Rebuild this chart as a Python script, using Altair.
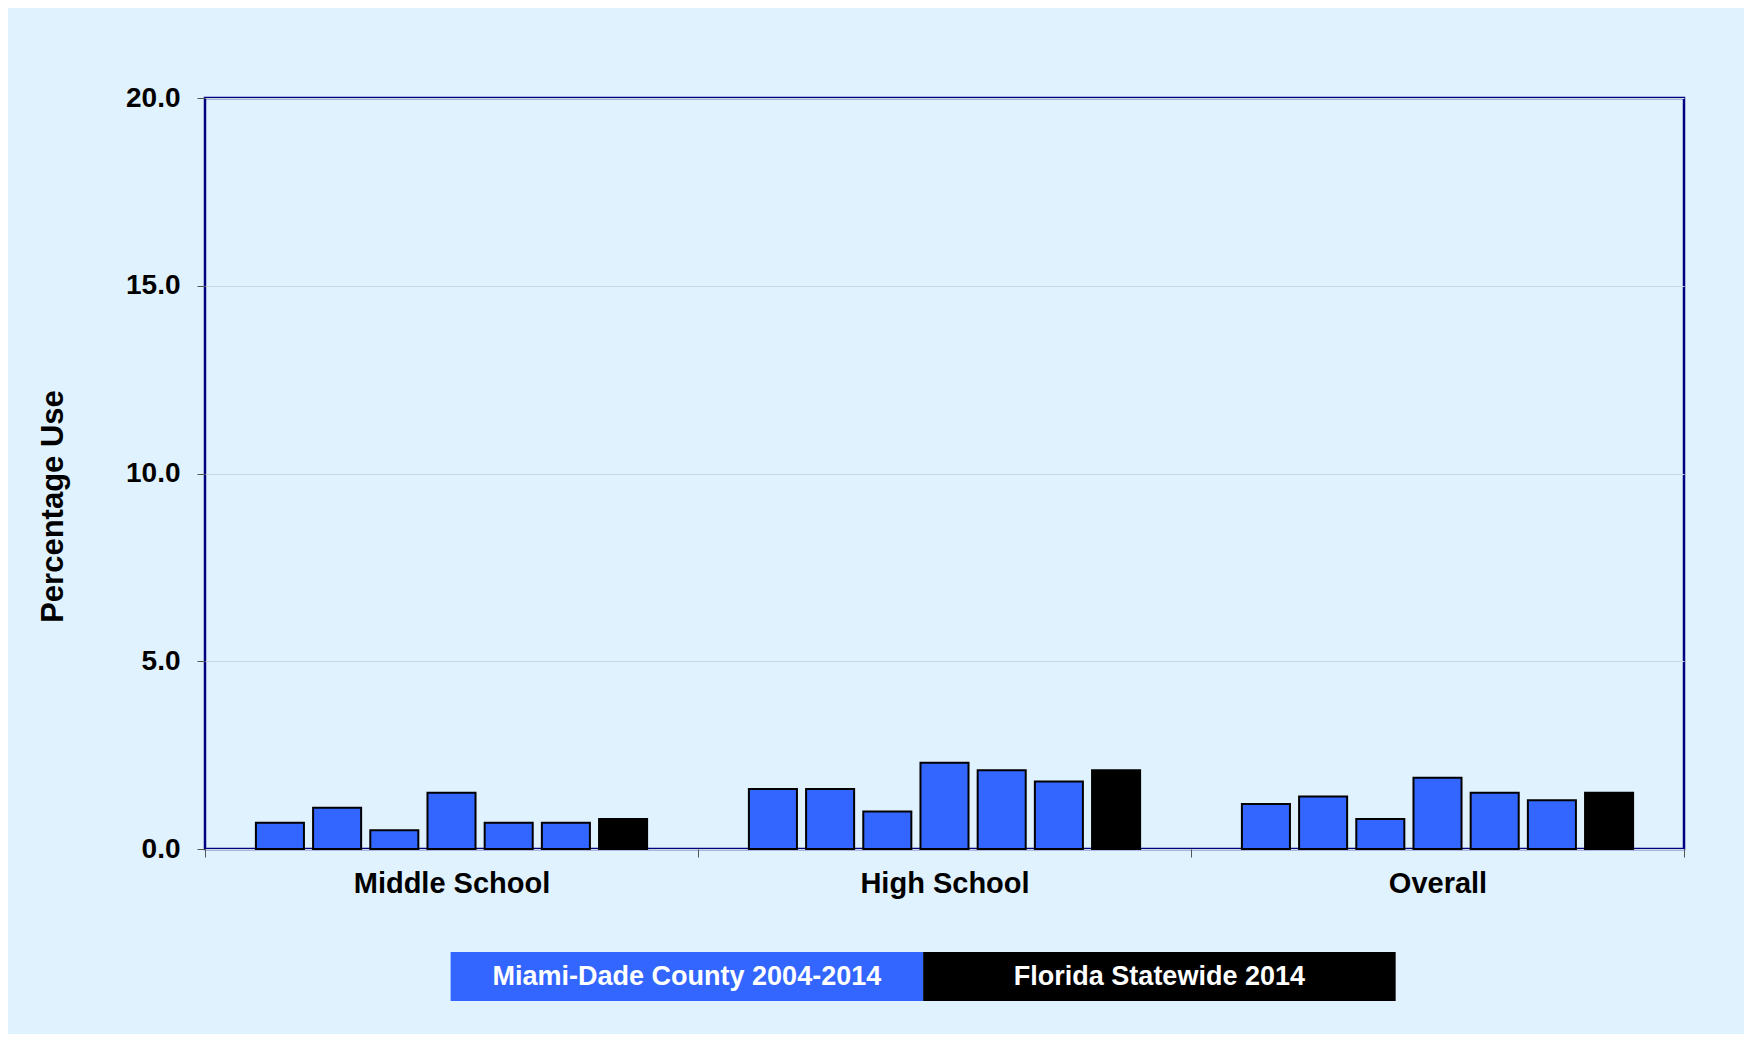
import altair as alt
import pandas as pd

groups = ["Middle School", "High School", "Overall"]
years = ["2004", "2006", "2008", "2010", "2012", "2014"]
middle_school = [0.7, 1.1, 0.5, 1.5, 0.7, 0.7]
high_school = [1.6, 1.6, 1.0, 2.3, 2.1, 1.8]
overall = [1.2, 1.4, 0.8, 1.9, 1.5, 1.3]
florida_2014 = [0.8, 2.1, 1.5]
legend_labels = ["Miami-Dade County 2004-2014", "Florida Statewide 2014"]
colors = ["#3366FF", "#000000"]
y_ticks = [0, 5, 10, 15, 20]

FONT = "Liberation Sans"
BG = "#E0F2FE"

rows = []
bar_order = [f"Miami-Dade {y}" for y in years] + ["Florida 2014"]
for g, vals, fl in zip(groups, [middle_school, high_school, overall], florida_2014):
    for y, v in zip(years, vals):
        rows.append({"group": g, "bar": f"Miami-Dade {y}", "series": legend_labels[0], "value": v})
    rows.append({"group": g, "bar": "Florida 2014", "series": legend_labels[1], "value": fl})
df = pd.DataFrame(rows)

main = alt.Chart(df).mark_bar(stroke="#000000", strokeWidth=2).encode(
    x=alt.X(
        "group:N", sort=groups,
        scale=alt.Scale(paddingInner=0, paddingOuter=0),
        axis=alt.Axis(
            title=None, labelAngle=0, tickBand="extent", domain=False,
            labelFont=FONT, labelFontSize=29, labelFontWeight="bold", labelColor="#000000",
            labelLimit=500,
            tickColor="#555555", tickSize=8, labelPadding=12, grid=False,
        ),
    ),
    xOffset=alt.XOffset("bar:N", sort=bar_order,
                        scale=alt.Scale(paddingInner=0.16, paddingOuter=0.89)),
    y=alt.Y(
        "value:Q",
        scale=alt.Scale(domain=[0, 20], nice=False),
        axis=alt.Axis(
            values=y_ticks, format=".1f", title="Percentage Use", domain=False,
            labelFont=FONT, labelFontSize=28, labelFontWeight="bold", labelColor="#000000",
            tickColor="#555555", tickSize=8, labelPadding=17,
            titleFont=FONT, titleFontSize=31, titleFontWeight="bold", titleColor="#000000",
            titlePadding=56, titleY=408,
            grid=True, gridColor="#C9D6DE", gridWidth=1,
        ),
    ),
    color=alt.Color("series:N", scale=alt.Scale(domain=legend_labels, range=colors), legend=None),
).properties(
    width=1479, height=751,
    view=alt.ViewBackground(stroke="#000080", strokeWidth=2.5),
)

legend_df = pd.DataFrame({"label": legend_labels})
lx = alt.X("label:N", sort=legend_labels, axis=None,
           scale=alt.Scale(paddingInner=0, paddingOuter=0.565, align=0.46))
rects = alt.Chart(legend_df).mark_rect().encode(
    x=lx,
    color=alt.Color("label:N", scale=alt.Scale(domain=legend_labels, range=colors), legend=None),
)
texts = alt.Chart(legend_df).mark_text(
    color="#FFFFFF", font=FONT, fontSize=27, fontWeight="bold"
).encode(x=lx, text="label:N")
legend = alt.layer(rects, texts).properties(
    width=1479, height=49, view=alt.ViewBackground(strokeWidth=0)
)

chart = alt.vconcat(main, legend, spacing=52).properties(
    background=BG,
    padding={"top": 74, "left": 28, "right": 58, "bottom": 33},
).configure(font=FONT)

chart.save("out.html", embed_options={"renderer": "svg", "actions": False})
